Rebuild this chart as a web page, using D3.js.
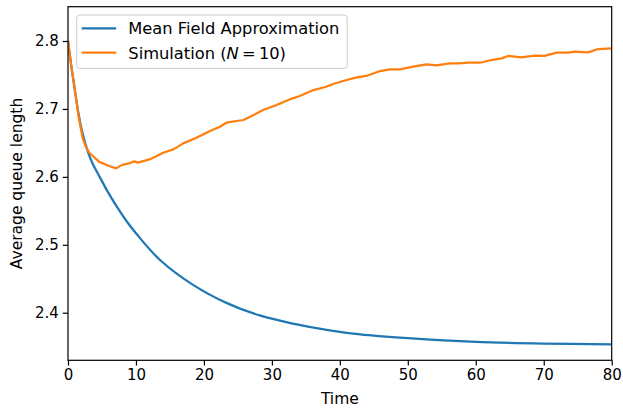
<!DOCTYPE html>
<html>
<head>
<meta charset="utf-8">
<script src="https://cdn.jsdelivr.net/npm/d3@7"></script>
<style>
  html, body { margin: 0; padding: 0; background: #fff; }
  svg { display: block; font-family: "DejaVu Sans", sans-serif; }
</style>
</head>
<body>
<svg id="chart" width="623" height="408"></svg>
<script>
// Mean field approximation of the average queue length over time
const mfTime  = [0, 0.5, 1.0, 1.5, 2.0, 2.5, 3.0, 3.6, 4.6, 5.8, 7.0, 8.6, 10, 13.5, 18.4, 23.3, 28.2, 33.1, 38.5, 43, 50, 60, 70, 80];
const mfValue = [2.800, 2.762, 2.728, 2.696, 2.670, 2.651, 2.635, 2.620, 2.601, 2.579, 2.559, 2.535, 2.517, 2.478, 2.441, 2.4145, 2.396, 2.384, 2.374, 2.368, 2.3625, 2.357, 2.3545, 2.3535];

// Simulated average queue length for N = 10
const simTime  = [0, 0.5, 0.93, 1.57, 2.16, 2.6, 3.14, 4.6, 6.08, 7.06, 8.04, 9.0, 9.76, 10.25, 11.47, 12.06, 12.84, 14.0, 15.5, 16.96, 18.9, 20.9, 22.35, 23.3, 25.8, 26.8, 28.7, 30.7, 32.6, 34.1, 36.1, 38.0, 39.0, 41.0, 42.5, 43.9, 45.9, 47.4, 48.8, 50.8, 52.75, 54.2, 56.2, 57.5, 58.9, 60.6, 62.3, 63.8, 64.75, 66.7, 68.7, 70.1, 71.9, 73.6, 74.6, 76.5, 78.0, 80];
const simValue = [2.800, 2.762, 2.734, 2.688, 2.657, 2.645, 2.6355, 2.622, 2.616, 2.6125, 2.618, 2.620, 2.6228, 2.621, 2.6243, 2.626, 2.6296, 2.6355, 2.6405, 2.6493, 2.6576, 2.6674, 2.6738, 2.6797, 2.6837, 2.6885, 2.6984, 2.7057, 2.714, 2.719, 2.7278, 2.7327, 2.7367, 2.7426, 2.7465, 2.7485, 2.7558, 2.7583, 2.7583, 2.7622, 2.7657, 2.7642, 2.7672, 2.7672, 2.768, 2.768, 2.772, 2.7745, 2.778, 2.776, 2.7784, 2.778, 2.7828, 2.7828, 2.7843, 2.7833, 2.7882, 2.7892];

const xTicks = [0, 10, 20, 30, 40, 50, 60, 70, 80];
const yTicks = [2.4, 2.5, 2.6, 2.7, 2.8];
const seriesNames = ["Mean Field Approximation", "Simulation"];

const W = 623, H = 408;
const margin = { left: 68, top: 6.7, right: 11.3, bottom: 47.7 };
const iw = W - margin.left - margin.right;
const ih = H - margin.top - margin.bottom;

const svg = d3.select("#chart");
const g = svg.append("g").attr("transform", `translate(${margin.left},${margin.top})`);

const x = d3.scaleLinear().domain([0, 80]).range([0, iw]);
const y = d3.scaleLinear().domain([2.32995, 2.8505]).range([ih, 0]);

const blue = "#1f77b4", orange = "#ff7f0e";

// clip lines to the axes box
svg.append("defs").append("clipPath").attr("id", "plot-clip")
  .append("rect").attr("width", iw).attr("height", ih);

const plot = g.append("g").attr("clip-path", "url(#plot-clip)");

const mfData = mfTime.map((t, i) => [t, mfValue[i]]);
const simData = simTime.map((t, i) => [t, simValue[i]]);

plot.append("path")
  .datum(mfData)
  .attr("fill", "none")
  .attr("stroke", blue)
  .attr("stroke-width", 2.25)
  .attr("d", d3.line().x(d => x(d[0])).y(d => y(d[1])).curve(d3.curveCatmullRom.alpha(0.5)));

plot.append("path")
  .datum(simData)
  .attr("fill", "none")
  .attr("stroke", orange)
  .attr("stroke-width", 2.25)
  .attr("stroke-linejoin", "round")
  .attr("d", d3.line().x(d => x(d[0])).y(d => y(d[1])));

// axes
const xAxis = d3.axisBottom(x).tickValues(xTicks).tickFormat(d3.format("d")).tickSizeOuter(0).tickSize(5.25).tickPadding(4);
const yAxis = d3.axisLeft(y).tickValues(yTicks).tickFormat(d3.format(".1f")).tickSizeOuter(0).tickSize(5.25).tickPadding(4);

const gx = g.append("g").attr("transform", `translate(0,${ih})`).call(xAxis);
const gy = g.append("g").call(yAxis);
[gx, gy].forEach(a => {
  a.select(".domain").remove();
  a.selectAll("line").attr("stroke", "#000").attr("stroke-width", 1.2);
  a.selectAll("text").attr("fill", "#000").style("font-size", "15px").style("font-family", "DejaVu Sans");
});

// frame
g.append("rect").attr("width", iw).attr("height", ih)
  .attr("fill", "none").attr("stroke", "#000").attr("stroke-width", 1.2);

// axis labels
g.append("text")
  .attr("x", iw / 2).attr("y", ih + 44)
  .attr("text-anchor", "middle")
  .style("font-size", "15.5px")
  .text("Time");

g.append("text")
  .attr("transform", `translate(${22 - margin.left},${ih / 2}) rotate(-90)`)
  .attr("text-anchor", "middle")
  .style("font-size", "15.5px")
  .text("Average queue length");

// legend
const lg = svg.append("g").attr("transform", "translate(76.7,15)");
lg.append("rect")
  .attr("width", 270.5).attr("height", 53.3)
  .attr("rx", 3).attr("ry", 3)
  .attr("fill", "rgba(255,255,255,0.8)")
  .attr("stroke", "#cccccc").attr("stroke-width", 1);

const rows = [
  { color: blue, y: 13.3 },
  { color: orange, y: 37.7 }
];
rows.forEach(r => {
  lg.append("line")
    .attr("x1", 5).attr("x2", 39.5)
    .attr("y1", r.y).attr("y2", r.y)
    .attr("stroke", r.color).attr("stroke-width", 2.25);
});

lg.append("text")
  .attr("x", 51.6).attr("y", rows[0].y + 5.8)
  .style("font-size", "16.3px")
  .text(seriesNames[0]);

const t2 = lg.append("text")
  .attr("x", 51.6).attr("y", rows[1].y + 5.8)
  .style("font-size", "16.3px");
t2.append("tspan").text(seriesNames[1] + " (");
t2.append("tspan").style("font-style", "italic").text("N");
t2.append("tspan").text("\u2009=\u200910)");
</script>
</body>
</html>
